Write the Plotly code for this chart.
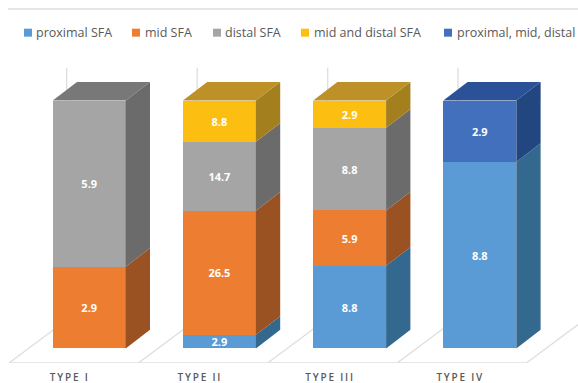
import plotly.graph_objects as go

# Share of lesions by SFA segment for each lesion type
types = ["TYPE I", "TYPE II", "TYPE III", "TYPE IV"]
proximal_sfa = [None, 2.9, 8.8, 8.8]
mid_sfa = [2.9, 26.5, 5.9, None]
distal_sfa = [5.9, 14.7, 8.8, None]
mid_and_distal_sfa = [None, 8.8, 2.9, None]
proximal_mid_distal = [None, None, None, 2.9]

series_names = ["proximal SFA", "mid SFA", "distal SFA", "mid and distal SFA", "proximal, mid, distal"]
series_values = [proximal_sfa, mid_sfa, distal_sfa, mid_and_distal_sfa, proximal_mid_distal]
front_colors = ["#5B9BD5", "#ED7D31", "#A5A5A5", "#FDBE12", "#4270BC"]
side_colors = ["#33688F", "#9A5223", "#6B6B6B", "#A47F1E", "#224680"]
top_colors = ["#3E76A8", "#B25E24", "#787878", "#BD9128", "#2B5298"]

W, H = 578, 383
FLOOR_PX = 363.3
BAR_ZERO_PX, BAR_FULL_PX = 348.7, 100.7
PX_PER_PCT = (BAR_ZERO_PX - BAR_FULL_PX) / 100
FIRST_CENTER_PX, STEP_PX = 89.2, 130.2
BAR_WIDTH = 73 / STEP_PX
DEPTH_X = 24.3 / STEP_PX
DEPTH_Y = 18.7 / PX_PER_PCT


def data_x(px):
    return (px - FIRST_CENTER_PX) / STEP_PX


def data_y(py):
    return (BAR_ZERO_PX - py) / PX_PER_PCT


fig = go.Figure()
totals = [sum(v[i] or 0 for v in series_values) for i in range(len(types))]
positions = list(range(len(types)))

# Front faces, normalised to 100% within each type
for name, vals, color in zip(series_names, series_values, front_colors):
    fig.add_trace(go.Bar(
        x=positions, y=vals, name=name, width=BAR_WIDTH, showlegend=False,
        marker=dict(color=color, line=dict(width=0)),
        text=[f"{v:.1f}" if v is not None else None for v in vals],
        textposition="inside", insidetextanchor="middle", textangle=0,
        constraintext="none",
        insidetextfont=dict(family="Open Sans", size=11, color="white", weight="bold"),
        hoverinfo="skip",
    ))

# Side and top faces extruded from the stacked percentages
running = [0.0] * len(types)
side_paths = []
top_paths = []
for vals in series_values:
    sx, sy, tx, ty = [], [], [], []
    for i, v in enumerate(vals):
        if v is None:
            continue
        low = running[i]
        high = low + v / totals[i] * 100
        running[i] = high
        right = i + BAR_WIDTH / 2
        left = i - BAR_WIDTH / 2
        sx += [right, right + DEPTH_X, right + DEPTH_X, right, right, None]
        sy += [low, low + DEPTH_Y, high + DEPTH_Y, high, low, None]
        if abs(high - 100) < 1e-6:
            tx += [left, left + DEPTH_X, right + DEPTH_X, right, left, None]
            ty += [high, high + DEPTH_Y, high + DEPTH_Y, high, high, None]
    side_paths.append((sx, sy))
    top_paths.append((tx, ty))

for (sx, sy), color in zip(side_paths, side_colors):
    fig.add_trace(go.Scatter(x=sx, y=sy, mode="lines", fill="toself", fillcolor=color,
                             line=dict(width=0), showlegend=False, hoverinfo="skip"))
for (tx, ty), color in zip(top_paths, top_colors):
    if tx:
        fig.add_trace(go.Scatter(x=tx, y=ty, mode="lines", fill="toself", fillcolor=color,
                                 line=dict(width=0), showlegend=False, hoverinfo="skip"))

# Floor, depth lines and the short wall gridlines behind the bars
shapes = []
GRID = "#DEDEDE"


def add_line(x0, y0, x1, y1, width=1.3):
    shapes.append(dict(type="line", layer="below", xref="x", yref="y",
                       x0=data_x(x0), y0=data_y(y0), x1=data_x(x1), y1=data_y(y1),
                       line=dict(color=GRID, width=width)))


add_line(8, 9, W, 9, 1.6)
add_line(9, FLOOR_PX, 526.4, FLOOR_PX, 1.6)
for k in range(5):
    fx = 9 + 129.35 * k
    add_line(fx, FLOOR_PX, fx + 57.7, FLOOR_PX - 43)
for vx in [66.7, 197.2, 327.7, 458]:
    add_line(vx, 67.7, vx, 320)

# Legend row
legend_swatches = [24, 132, 213, 301, 444]
legend_text_x = [35, 144, 224, 312.6, 456]
annotations = []
for name, color, sw, tx in zip(series_names, front_colors, legend_swatches, legend_text_x):
    shapes.append(dict(type="rect", xref="x", yref="y", line=dict(width=0), fillcolor=color,
                       x0=data_x(sw), x1=data_x(sw + 8),
                       y0=data_y(32.7 + 4), y1=data_y(32.7 - 4)))
    annotations.append(dict(x=data_x(tx), y=data_y(32.7), xref="x", yref="y", text=name,
                            showarrow=False, xanchor="left", yanchor="middle", xshift=-1,
                            font=dict(family="Open Sans", size=12.5, color="#595959")))

fig.update_layout(
    width=W, height=H, barmode="stack", barnorm="percent",
    margin=dict(l=0, r=0, t=0, b=H - FLOOR_PX, autoexpand=False),
    paper_bgcolor="white", plot_bgcolor="white", showlegend=False,
    shapes=shapes, annotations=annotations,
    xaxis=dict(range=[data_x(0), data_x(W)], tickvals=[p - 0.15 for p in positions], ticktext=types,
               showgrid=False, zeroline=False, showline=False, ticks="outside", ticklen=5,
               tickcolor="rgba(0,0,0,0)", automargin=False,
               tickfont=dict(family="Open Sans", size=10, color="#595959", weight=600)),
    yaxis=dict(range=[data_y(FLOOR_PX), data_y(0)], showgrid=False, zeroline=False, showline=False,
               showticklabels=False, ticks="", automargin=False),
)

# Axis labels are set with wide tracking
spacing_js = "document.querySelectorAll('.xtick text').forEach(function(t){t.style.letterSpacing='1.8px';});"
fig.write_html("out.html", post_script=spacing_js, config={"displayModeBar": False})
